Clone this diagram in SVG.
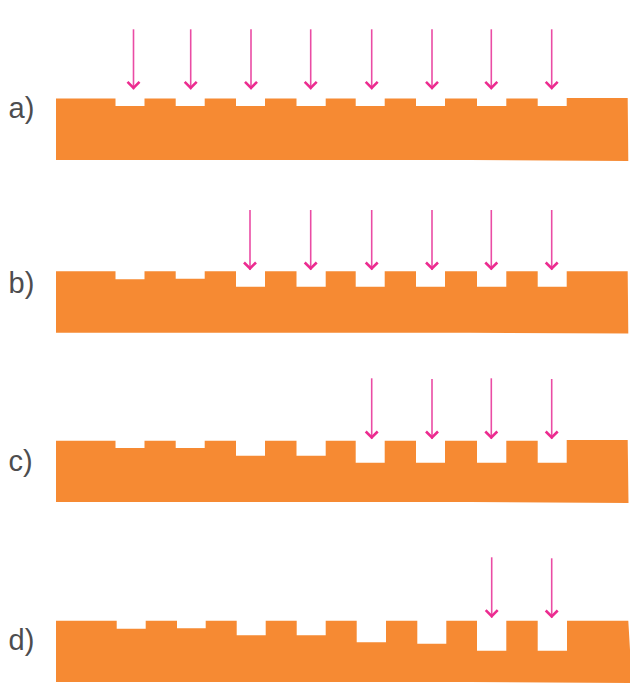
<svg xmlns="http://www.w3.org/2000/svg" width="641" height="697" viewBox="0 0 641 697">
<style>
.slab{fill:#f68a33}
.arrow{fill:none;stroke:#ea4ca4;stroke-width:1.6;marker-end:url(#head)}
.label{font-family:"Liberation Sans",Arial,sans-serif;font-size:29px;fill:#4d4d4f}
</style>
<defs>
<marker id="head" markerUnits="userSpaceOnUse" markerWidth="16" markerHeight="18" refX="13" refY="9" orient="auto" viewBox="0 0 16 18">
<path d="M5.500 3L11.500 9L5.500 15" fill="none" stroke="#ec2c90" stroke-width="2.600"/>
</marker>
</defs>
<rect width="641" height="697" fill="#ffffff"/>
<g id="row-a">
<path class="slab" d="M56 98.500H115.500V106H144.500V98.500H175.700V106H204.700V98.500H236V106H265V98.500H296.500V106H325.700V98.500H355.700V106H384.700V98.500H416V106H445V98.500H477V106H506.300V98.500H537.700V106H566.700V98H627.700L628.300 161L470 160H56Z"/>
<text class="label" x="8.500" y="118">a)</text>
</g>
<g id="row-b">
<path class="slab" d="M56 271.300H115.500V279.300H144.500V271.300H175.700V278.700H204.700V271.300H236V286.700H265V271.300H296.500V286.700H325.700V271.300H355.700V286.700H384.700V271.300H416V286.700H445V271.300H477V286.700H506.300V271.300H537.700V286.700H566.700V271.300H627.700L628.300 333.500L470 332.700H56Z"/>
<text class="label" x="8.500" y="293">b)</text>
</g>
<g id="row-c">
<path class="slab" d="M56 440.700H115.500V448H144.500V440.700H175.700V448H204.700V440.700H236V455.700H265V440.700H296.500V455.700H325.700V440.700H355.700V462.700H384.700V440.700H416V462.700H445V440.700H477V462.700H506.300V440.700H537.700V462.700H566.700V440H627.700L628.500 503L470 502H56Z"/>
<text class="label" x="8.500" y="471">c)</text>
</g>
<g id="row-d">
<path class="slab" d="M56 620.700H116.700V628.700H145.700V620.700H177V628.300H205.700V620.700H236.700V635.300H265.700V620.700H296.700V635.300H325.700V620.700H356.700V642.300H386V620.700H417.300V643.700H446.300V620.700H477V650.700H506.300V620.700H537.700V650.700H567V620.700H628.300L630 650V683L470 682H56Z"/>
<text class="label" x="8.500" y="649.500">d)</text>
</g>
<g id="connectors">
<path class="arrow" d="M133.500 29.300V89.300"/>
<path class="arrow" d="M190.700 29.300V89.300"/>
<path class="arrow" d="M251 29.300V89.300"/>
<path class="arrow" d="M310.700 29.300V89.300"/>
<path class="arrow" d="M371.700 29.300V89.300"/>
<path class="arrow" d="M432 29.300V89.300"/>
<path class="arrow" d="M491.300 29.300V89.300"/>
<path class="arrow" d="M551.700 29.300V89.300"/>
<path class="arrow" d="M250 210V270"/>
<path class="arrow" d="M310.700 210V270"/>
<path class="arrow" d="M371.700 210V270"/>
<path class="arrow" d="M432 210V270"/>
<path class="arrow" d="M491.300 210V270"/>
<path class="arrow" d="M551.700 210V270"/>
<path class="arrow" d="M371.700 378.300V439"/>
<path class="arrow" d="M432 379V439"/>
<path class="arrow" d="M491.300 378.300V439"/>
<path class="arrow" d="M551.700 379V439"/>
<path class="arrow" d="M491.700 557.300V617.700"/>
<path class="arrow" d="M551.700 558.300V618"/>
</g>
</svg>
